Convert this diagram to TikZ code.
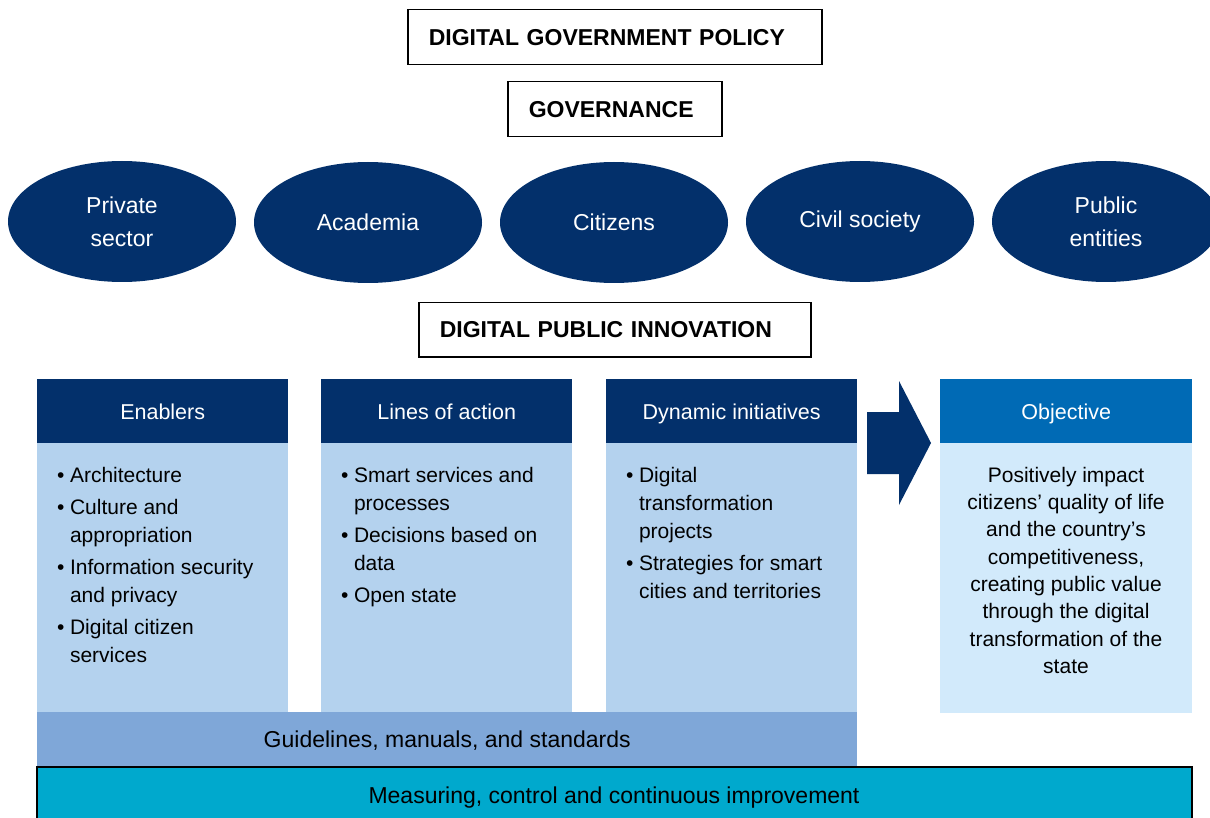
\documentclass[tikz,border=0pt]{standalone}
\usepackage{fontspec}
\setmainfont{Liberation Sans}
\usetikzlibrary{shapes.geometric}
\definecolor{navy}{HTML}{03306B}
\definecolor{colbody}{HTML}{B4D2EE}
\definecolor{objhead}{HTML}{006AB5}
\definecolor{objbody}{HTML}{D2EAFB}
\definecolor{guide}{HTML}{7FA7D8}
\definecolor{measure}{HTML}{00A9CD}
\tikzset{
  topbox/.style={draw=black, line width=1.5pt, fill=white, anchor=north west,
    font=\fontsize{23}{27}\selectfont\bfseries, inner xsep=21pt, inner ysep=0pt, align=left},
  ell/.style={ellipse, fill=navy, minimum width=228pt, minimum height=121pt, inner sep=0pt,
    text=white, font=\fontsize{23}{33}\selectfont, align=center},
  hdr/.style={fill=navy, minimum width=251pt, minimum height=64pt, inner sep=0pt,
    text height=21pt, text depth=4pt,
    text=white, font=\fontsize{21.5}{26}\selectfont, anchor=north west},
  colbox/.style={fill=colbody, minimum width=251pt, minimum height=269pt, inner sep=0pt, anchor=north west},
  itemtext/.style={anchor=north west, inner sep=0pt, font=\fontsize{21}{28}\selectfont},
  bar/.style={inner sep=0pt, anchor=north west, font=\fontsize{23}{27}\selectfont}
}
\begin{document}
\begin{tikzpicture}[x=1pt,y=-1pt]
\useasboundingbox (0,0) rectangle (1210,818);
\clip (0,0) rectangle (1210,818);

% top boxes
\node[topbox, minimum width=414pt, minimum height=55pt, text width=372pt] (policy) at (407,9) {DIGITAL GOVERNMENT POLICY};
\node[topbox, minimum width=214pt, minimum height=55pt, text width=172pt] (gov) at (507,81) {GOVERNANCE};

% ellipses
\node[ell] (e1) at (122,221.5) {Private\\sector};
\node[ell] (e2) at (368,222.5) {Academia};
\node[ell] (e3) at (614,222.5) {Citizens};
\node[ell] (e4) at (860,221.5) {Civil society};
\node[ell] (e5) at (1106,221.5) {Public\\entities};

\node[topbox, minimum width=392pt, minimum height=54pt, text width=350pt] (dpi) at (418,302) {DIGITAL PUBLIC INNOVATION};

% column bodies
\node[colbox] (b1) at (37,443) {};
\node[colbox] (b2) at (321,443) {};
\node[colbox] (b3) at (606,443) {};
\node[colbox, fill=objbody, minimum width=252pt, minimum height=270pt] (b4) at (940,443) {};

% headers
\node[hdr] (h1) at (37,379) {Enablers};
\node[hdr] (h2) at (321,379) {Lines of action};
\node[hdr] (h3) at (606,379) {Dynamic initiatives};
\node[hdr, fill=objhead, minimum width=252pt] (h4) at (940,379) {Objective};

% items
\node[itemtext] (t1) at (57,463) {\begin{tabular}{@{}l@{\hspace{5.5pt}}l@{}}
\textbullet & Architecture\\[4pt]
\textbullet & Culture and\\
 & appropriation\\[4pt]
\textbullet & Information security\\
 & and privacy\\[4pt]
\textbullet & Digital citizen\\
 & services
\end{tabular}};
\node[itemtext] (t2) at (341,463) {\begin{tabular}{@{}l@{\hspace{5.5pt}}l@{}}
\textbullet & Smart services and\\
 & processes\\[4pt]
\textbullet & Decisions based on\\
 & data\\[4pt]
\textbullet & Open state
\end{tabular}};
\node[itemtext] (t3) at (626,463) {\begin{tabular}{@{}l@{\hspace{5.5pt}}l@{}}
\textbullet & Digital\\
 & transformation\\
 & projects\\[4pt]
\textbullet & Strategies for smart\\
 & cities and territories
\end{tabular}};
\node[itemtext, anchor=north, font=\fontsize{21}{27.3}\selectfont] (t4) at (1066,463) {\begin{tabular}{@{}c@{}}
Positively impact\\
citizens’ quality of life\\
and the country’s\\
competitiveness,\\
creating public value\\
through the digital\\
transformation of the\\
state
\end{tabular}};

% arrow
\fill[navy] (867,412) -- (899,412) -- (899,381) -- (931,443) -- (899,505) -- (899,474) -- (867,474) -- cycle;

% bars
\node[bar, fill=guide, minimum width=820pt, minimum height=55pt, text height=17pt, text depth=2pt] (guide) at (37,712) {Guidelines, manuals, and standards};
\fill[measure] (37,767) rectangle (1192,840);
\draw[black, line width=2pt] (37,840) -- (37,767) -- (1192,767) -- (1192,840);
\node[inner sep=0pt, font=\fontsize{23}{27}\selectfont] (meas) at (614,798) {Measuring, control and continuous improvement};
\end{tikzpicture}
\end{document}
